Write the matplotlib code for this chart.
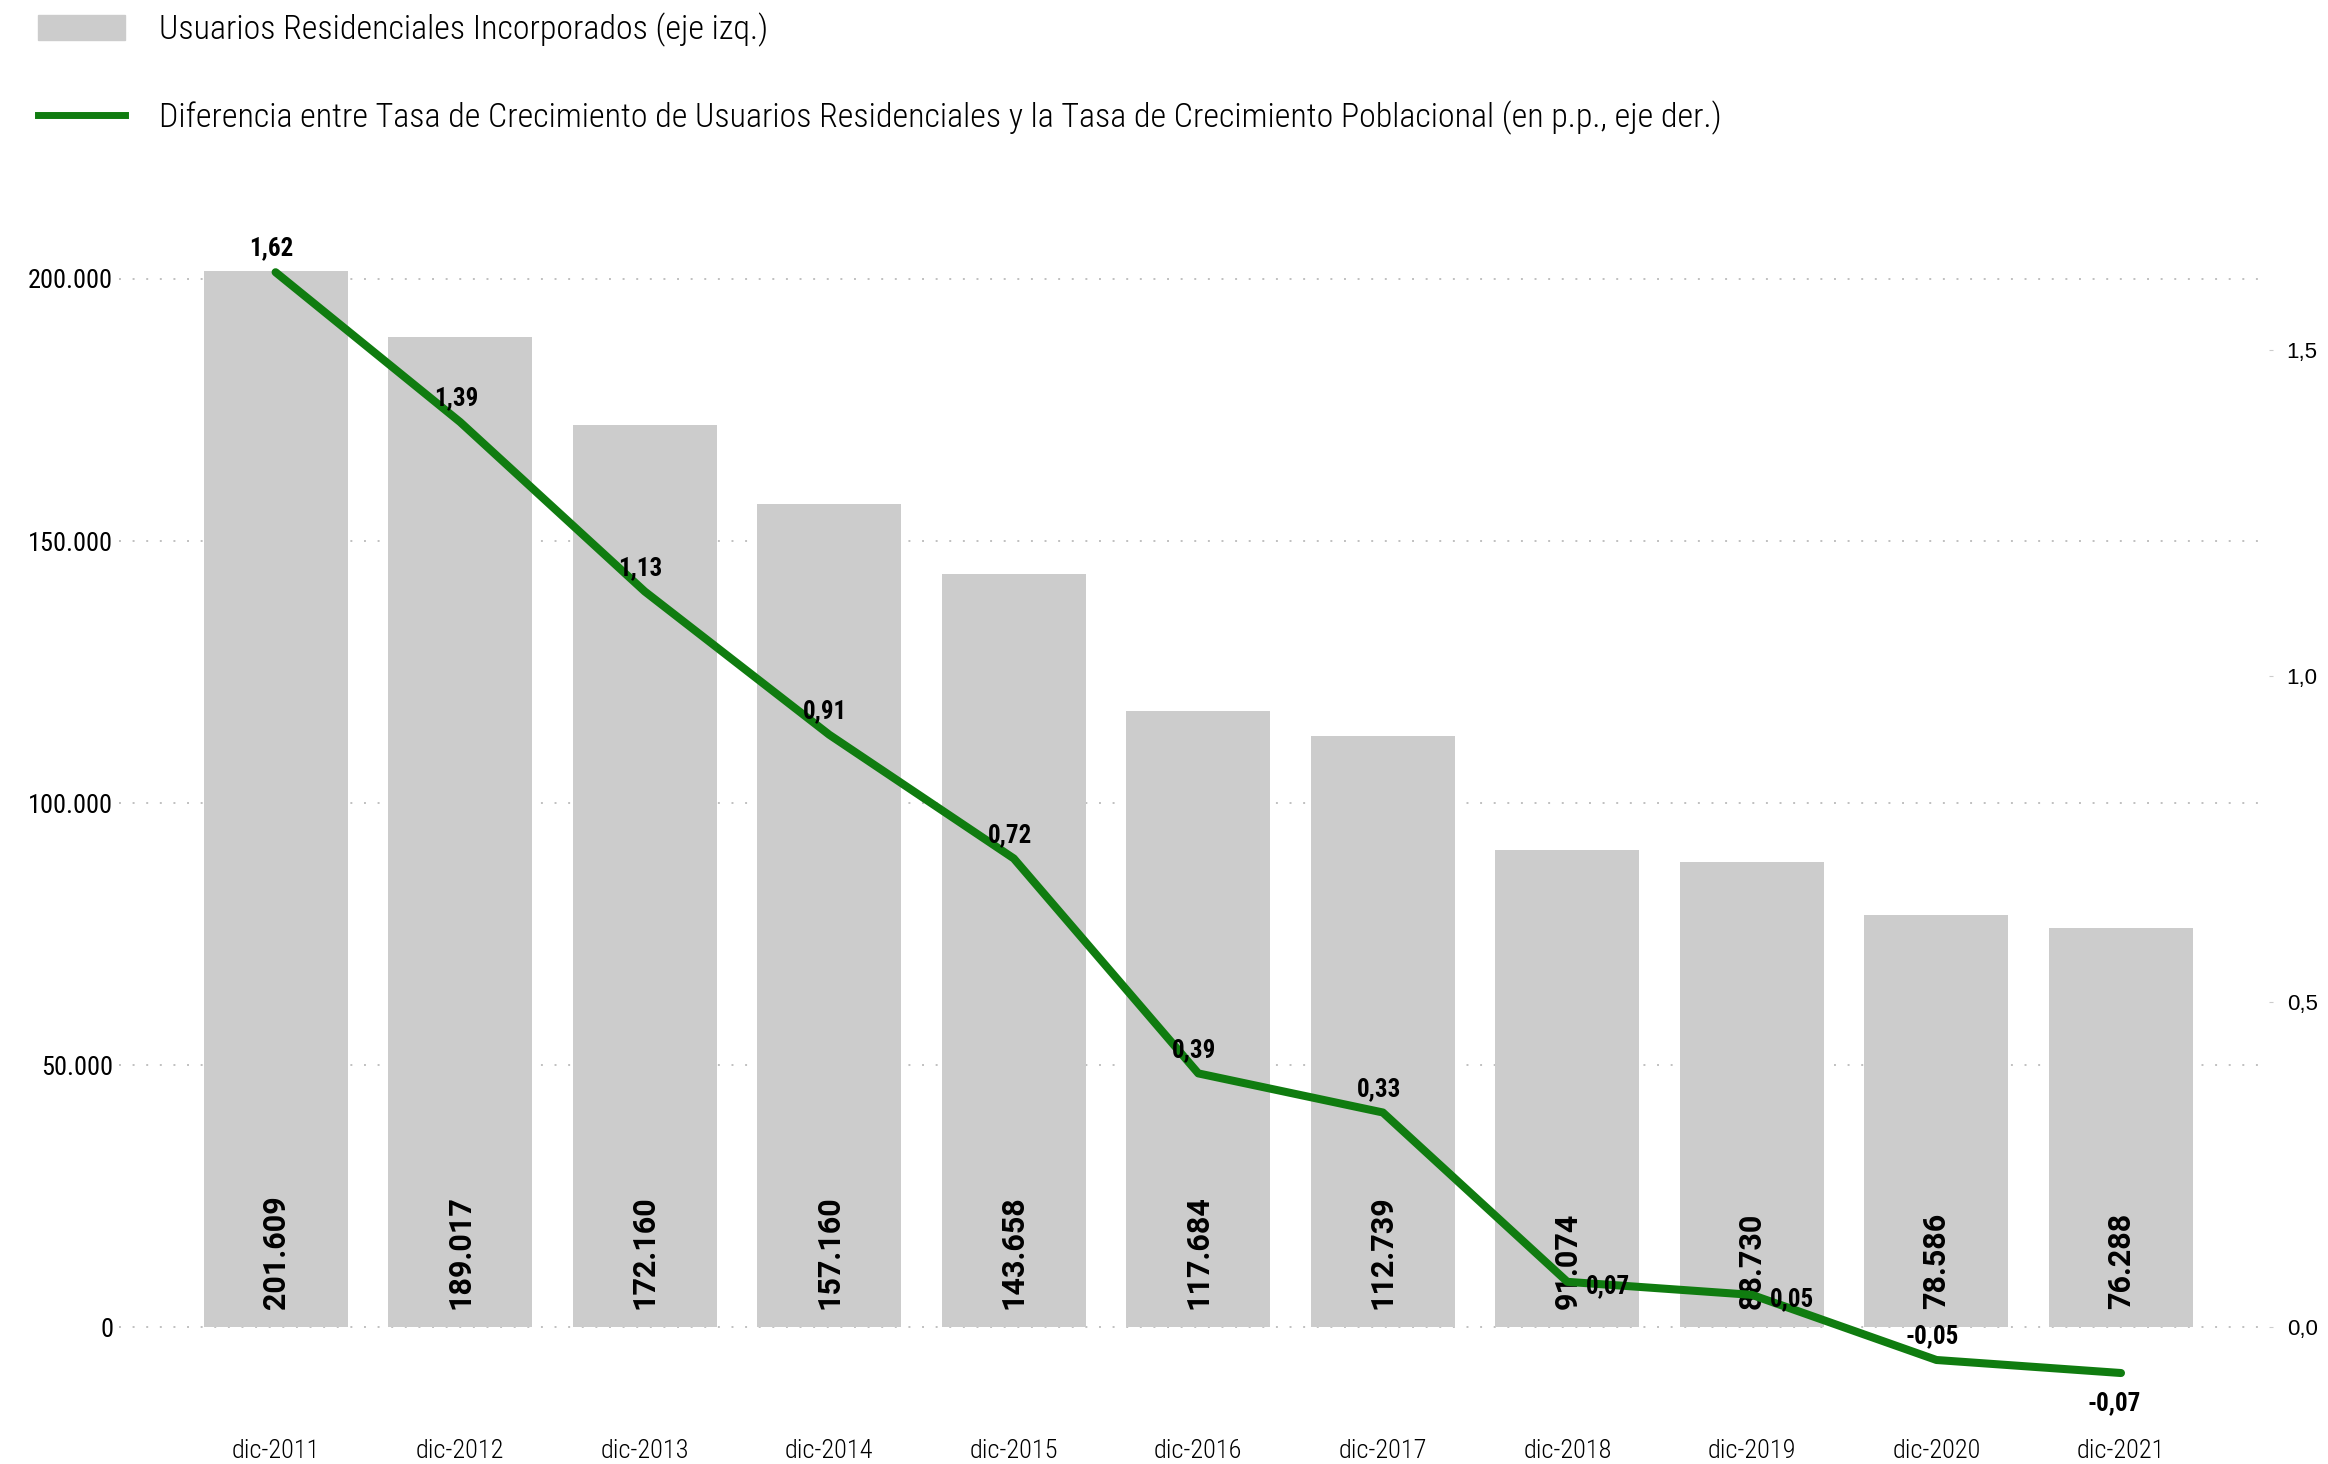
import matplotlib
matplotlib.use('Agg')
import matplotlib.pyplot as plt
from matplotlib.ticker import FuncFormatter
import numpy as np

# Data
periodos = ["dic-2011", "dic-2012", "dic-2013", "dic-2014", "dic-2015", "dic-2016",
            "dic-2017", "dic-2018", "dic-2019", "dic-2020", "dic-2021"]
usuarios = [201609, 189017, 172160, 157160, 143658, 117684,
            112739, 91074, 88730, 78586, 76288]
diferencia = [1.62, 1.39, 1.13, 0.91, 0.72, 0.39, 0.33, 0.07, 0.05, -0.05, -0.07]

lbl_bar = "Usuarios Residenciales Incorporados (eje izq.)"
lbl_line = ("Diferencia entre Tasa de Crecimiento de Usuarios Residenciales y la Tasa de "
            "Crecimiento Poblacional (en p.p., eje der.)")

COND = ['Roboto Condensed', 'Liberation Sans Narrow', 'Roboto', 'DejaVu Sans']
GRAY = '#cccccc'
GREEN = '#107c10'

fig = plt.figure(figsize=(23.28, 14.64), dpi=100)
ax = fig.add_axes([0.051, 0.0314, 0.9235, 0.8166])
ax2 = ax.twinx()

x = np.arange(len(periodos))
ax.bar(x, usuarios, 0.78, color=GRAY, zorder=2)
for xi, v in zip(x, usuarios):
    ax.annotate(f"{v:,}".replace(",", "."), (xi, 0), xytext=(0, 13), textcoords='offset points',
                rotation=90, ha='center', va='bottom', fontsize=22, fontweight='bold',
                family=['Roboto', 'DejaVu Sans'], zorder=3)

ax.set_xlim(-0.85, 10.8)
ax.set_ylim(-17281, 210768)
ax.set_yticks([0, 50000, 100000, 150000, 200000])
ax.yaxis.set_major_formatter(FuncFormatter(lambda v, p: f"{v:,.0f}".replace(",", ".")))
ax.set_xticks(x)
ax.set_xticklabels(periodos)
ax.grid(axis='y', linestyle=(0, (1, 6)), color='#c0c0c0', linewidth=1.4, zorder=1)
ax.tick_params(axis='y', length=0, pad=4, labelsize=19)
ax.tick_params(axis='x', length=0, pad=15, labelsize=19)
for t in ax.get_xticklabels():
    t.set_family(COND)
    t.set_fontweight('light')
for t in ax.get_yticklabels():
    t.set_family(COND)

ax2.plot(x, diferencia, color=GREEN, linewidth=5.8, solid_capstyle='round', zorder=4)
ax2.set_ylim(-0.1391, 1.6963)
ax2.set_yticks([0, 0.5, 1.0, 1.5])
ax2.yaxis.set_major_formatter(FuncFormatter(lambda v, p: f"{v:.1f}".replace(".", ",")))
ax2.tick_params(axis='y', length=3, color='#cccccc', pad=10, labelsize=16)
for t in ax2.get_yticklabels():
    t.set_family(['Liberation Sans', 'DejaVu Sans'])

offsets = {'above': (-3, 17), 'right': (29, -3), 'below': (-5, -22)}
placement = ['above'] * 7 + ['right', 'right', 'above', 'below']
for xi, v, pl in zip(x, diferencia, placement):
    ax2.annotate(f"{v:.2f}".replace(".", ","), (xi, v), xytext=offsets[pl],
                 textcoords='offset points', ha='center', va='center',
                 fontsize=18, fontweight='bold', family=COND, zorder=5)

for a in (ax, ax2):
    for s in a.spines.values():
        s.set_visible(False)

fig.legend(handles=[plt.Rectangle((0, 0), 1, 1, color=GRAY),
                    plt.Line2D([], [], color=GREEN, linewidth=5)],
           labels=[lbl_bar, lbl_line], loc='upper left', bbox_to_anchor=(0.009, 1.003),
           frameon=False, handlelength=2.55, handleheight=0.75, handletextpad=1.0,
           labelspacing=1.58, borderpad=0.0,
           prop={'family': COND, 'size': 24.5, 'weight': 'light'})

fig.savefig("out.png", dpi=100)
